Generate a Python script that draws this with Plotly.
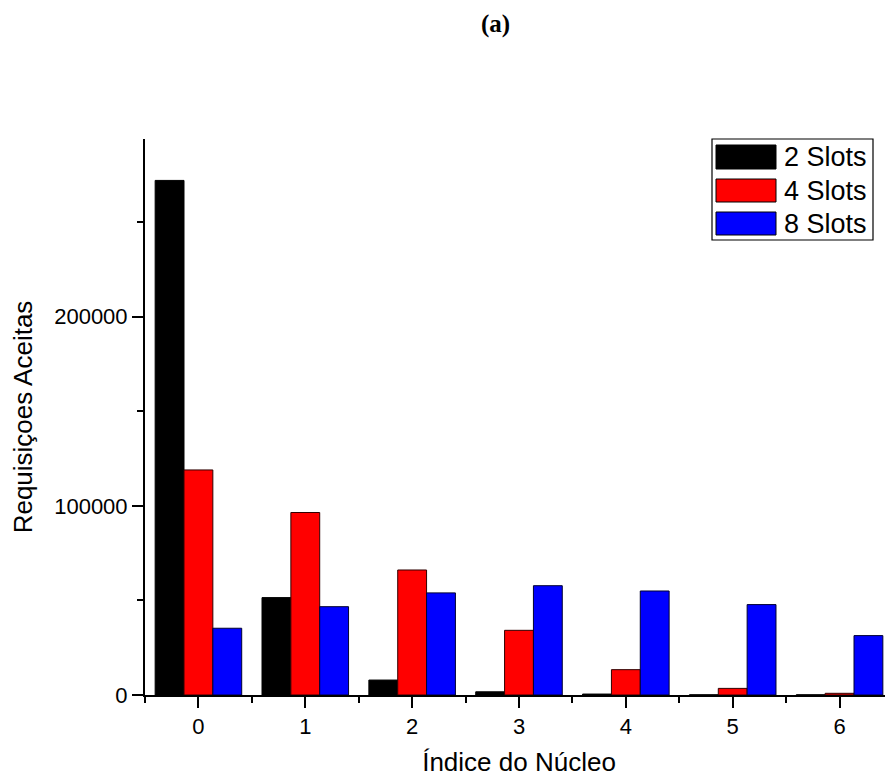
import plotly.graph_objects as go

categories = [0, 1, 2, 3, 4, 5, 6]
series_names = ["2 Slots", "4 Slots", "8 Slots"]
slots2 = [272100, 51500, 7900, 1700, 500, 100, 100]
slots4 = [119000, 96500, 66100, 34200, 13400, 3500, 900]
slots8 = [35300, 46700, 54000, 57800, 55000, 47800, 31400]
colors = ["#000000", "#FF0000", "#0000FF"]
outline = ["#000000", "#300000", "#000030"]
y_ticks = [0, 100000, 200000]
y_minor = [50000, 150000, 250000]

OFF = 8  # default page body margin
W, H = 893 - OFF, 780 - OFF
L, R, T, B = 145 - OFF, 0, 139 - OFF, 85
pw, ph = W - L - R, H - T - B

fig = go.Figure()
for name, vals, c, oc in zip(series_names, [slots2, slots4, slots8], colors, outline):
    fig.add_trace(go.Bar(x=categories, y=vals, name=name,
                         marker=dict(color=c, line=dict(color=oc, width=1)),
                         showlegend=False))

font = "Arial"
fig.update_layout(
    width=W, height=H,
    margin=dict(l=L, r=R, t=T, b=B),
    paper_bgcolor="white", plot_bgcolor="white",
    barmode="group", bargap=0.19, bargroupgap=0,
    font=dict(family=font, color="black"),
)
fig.update_xaxes(
    range=[-0.5, 6.5], tickvals=categories, ticktext=[str(c) for c in categories],
    showline=True, linecolor="black", linewidth=2, showgrid=False, zeroline=False,
    ticks="outside", ticklen=11, tickwidth=2, tickcolor="black",
    tickfont=dict(size=22, family=font),
    minor=dict(tickvals=[c + 0.5 for c in [-1] + categories], ticks="outside", ticklen=6, tickwidth=2, tickcolor="black"),
    title=dict(text="Índice do Núcleo", font=dict(size=26, family=font), standoff=14),
)
fig.update_yaxes(
    range=[0, 294000], tickvals=y_ticks, ticktext=[str(v) for v in y_ticks],
    showline=True, linecolor="black", linewidth=2, showgrid=False, zeroline=False,
    ticks="outside", ticklen=11, tickwidth=2, tickcolor="black",
    tickfont=dict(size=22, family=font),
    minor=dict(tickvals=y_minor, ticks="outside", ticklen=6, tickwidth=2, tickcolor="black"),
    title=dict(text="Requisiçoes Aceitas", font=dict(size=26, family=font), standoff=14),
)

def px2x(px):
    return (px - OFF - L) / pw

def py2y(py):
    return (H - B - (py - OFF)) / ph

shapes = [dict(type="rect", xref="paper", yref="paper",
               x0=px2x(712), x1=px2x(873), y0=py2y(240), y1=py2y(139),
               line=dict(color="black", width=1.2), fillcolor="white", layer="above")]
annotations = [dict(xref="paper", yref="paper", x=px2x(495), y=py2y(24),
                    text="<b>(a)</b>", showarrow=False, xanchor="center", yanchor="middle",
                    font=dict(size=25, family="Liberation Serif", color="black"))]
rows = [(145, 169), (179, 202), (212, 235)]
for (y0, y1), name, c in zip(rows, series_names, colors):
    shapes.append(dict(type="rect", xref="paper", yref="paper",
                       x0=px2x(716), x1=px2x(776), y0=py2y(y1), y1=py2y(y0),
                       line=dict(color="black", width=1), fillcolor=c, layer="above"))
    annotations.append(dict(xref="paper", yref="paper", x=px2x(782), y=py2y((y0 + y1) / 2),
                            text=name, showarrow=False, xanchor="left", yanchor="middle",
                            font=dict(size=27, family=font, color="black")))
fig.update_layout(shapes=shapes, annotations=annotations)

fig.write_html("out.html")
